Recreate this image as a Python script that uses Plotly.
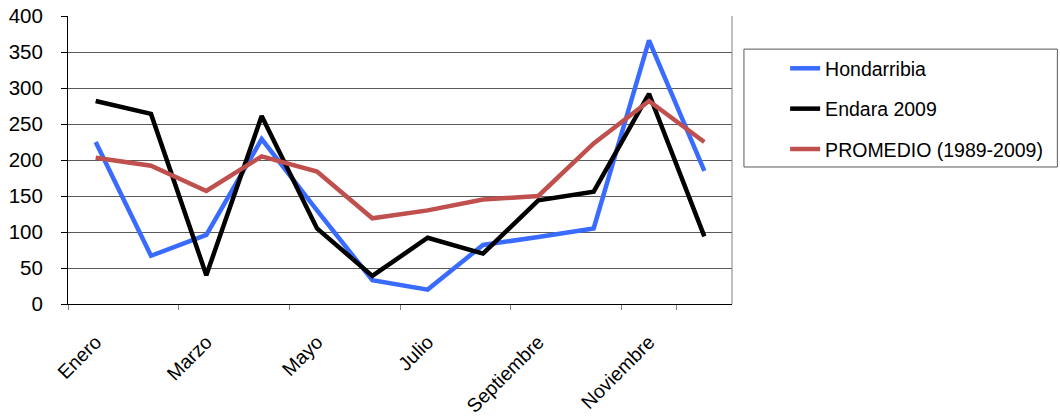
import plotly.graph_objects as go

months = ["Enero", "Febrero", "Marzo", "Abril", "Mayo", "Junio", "Julio",
          "Agosto", "Septiembre", "Octubre", "Noviembre", "Diciembre"]
hondarribia = [225, 67, 96, 229, 130, 33, 20, 82, 93, 105, 366, 185]
endara_2009 = [282, 264, 40, 261, 105, 39, 92, 70, 144, 156, 292, 94]
promedio = [203, 192, 157, 205, 184, 119, 130, 145, 150, 223, 282, 225]
shown_labels = ["Enero", "Marzo", "Mayo", "Julio", "Septiembre", "Noviembre"]
y_ticks = [0, 50, 100, 150, 200, 250, 300, 350, 400]

series = [
    ("Hondarribia", hondarribia, "#3A6BFF"),
    ("Endara 2009", endara_2009, "#000000"),
    ("PROMEDIO (1989-2009)", promedio, "#C0504D"),
]

fig = go.Figure()
for i, (name, vals, color) in enumerate(series):
    fig.add_trace(go.Scatter(
        x=months, y=vals, name=name, mode="lines",
        line=dict(color=color, width=4.5),
        legendgroup=f"g{i}",
    ))

font = dict(family="Liberation Sans, Arial, sans-serif", size=19.5, color="#000000")
yfont = dict(family="Liberation Sans, Arial, sans-serif", size=20.5, color="#000000")

fig.update_layout(
    width=1060, height=419,
    margin=dict(l=68, r=328, t=16, b=115, autoexpand=False),
    plot_bgcolor="white", paper_bgcolor="white",
    font=font,
    showlegend=True,
    legend=dict(
        x=1.080, y=0.885, xanchor="left", yanchor="top",
        bgcolor="rgba(0,0,0,0)", borderwidth=0,
        font=font, traceorder="grouped", tracegroupgap=12,
    ),
    shapes=[
        dict(type="rect", xref="paper", yref="paper",
             x0=1.018, x1=1.49, y0=0.4757, y1=0.885,
             line=dict(color="#595959", width=1)),
        dict(type="line", xref="paper", yref="paper",
             x0=1, x1=1, y0=0, y1=1,
             line=dict(color="#808080", width=1)),
    ],
)

fig.update_xaxes(
    type="category", categoryorder="array", categoryarray=months,
    range=[-0.5, 11.5], automargin=False,
    tickmode="array", tickvals=shown_labels, ticktext=shown_labels,
    tickangle=-45, tickfont=font, ticklabelstandoff=18,
    showgrid=False, showline=True, linecolor="#000000", linewidth=1,
    ticks="outside", ticklen=5, tickcolor="#808080", tickson="boundaries",
)
fig.update_yaxes(
    range=[0, 400], tickmode="array", tickvals=y_ticks, automargin=False,
    tickfont=yfont, ticklabelstandoff=14, ticklabeloverflow="allow",
    showgrid=True, gridcolor="#595959", gridwidth=1,
    showline=True, linecolor="#000000", linewidth=1,
    ticks="outside", ticklen=6, tickcolor="#000000",
    zeroline=False,
)

fig.write_html("out.html", config={"displayModeBar": False},
               post_script="document.body.style.margin='0';")
